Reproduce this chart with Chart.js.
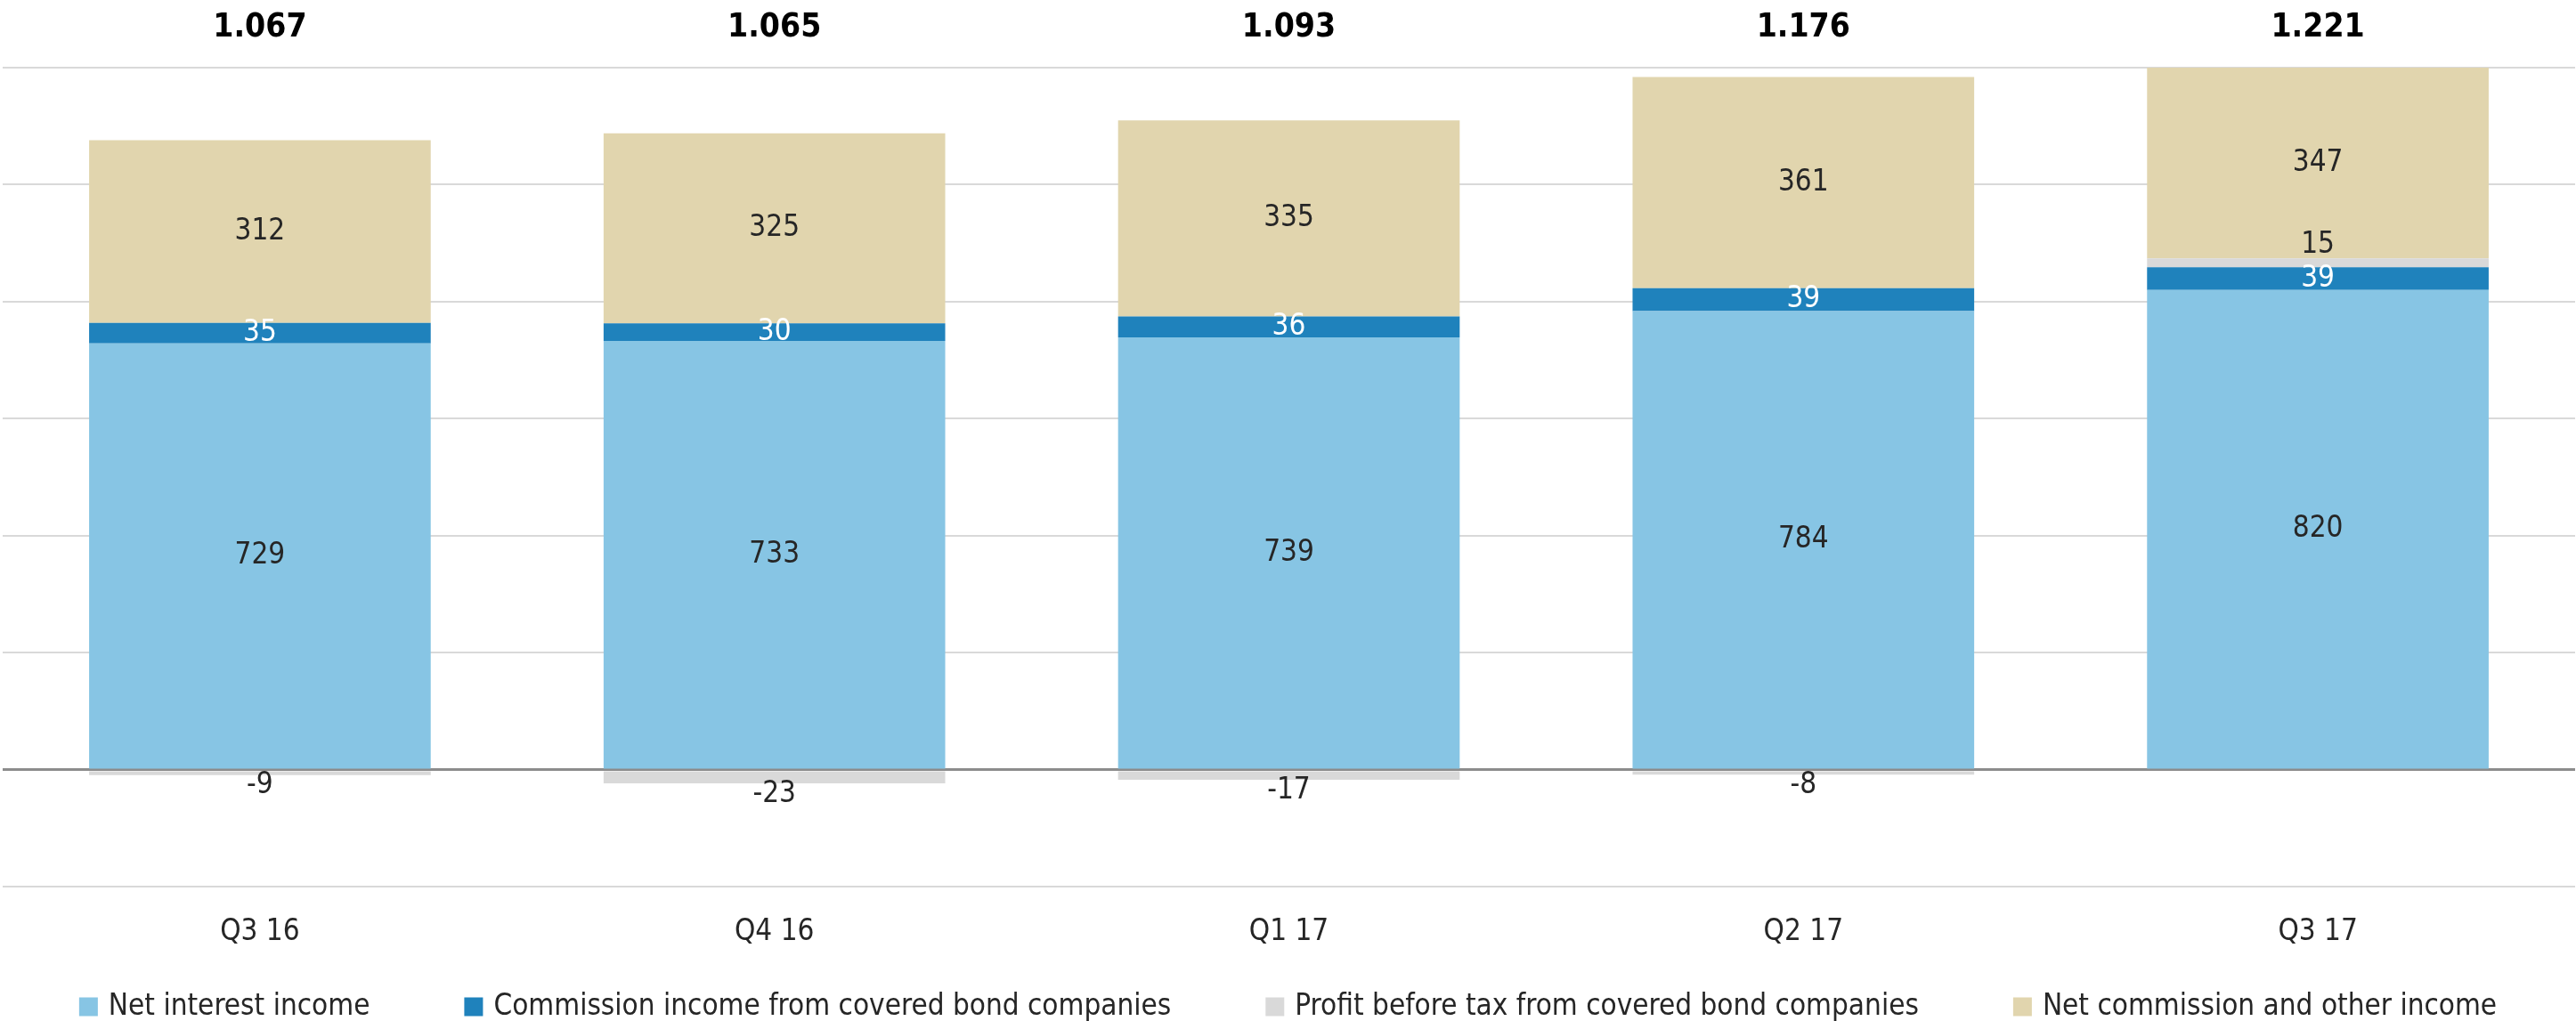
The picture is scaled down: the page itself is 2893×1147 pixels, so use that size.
<!DOCTYPE html>
<html>
<head>
<meta charset="utf-8">
<title>Income by quarter</title>
<script src="https://cdn.jsdelivr.net/npm/chart.js@4.4.0/dist/chart.umd.min.js"></script>
<style>
  html, body { margin: 0; padding: 0; background: #ffffff; }
  #wrap { width: 2893px; height: 1147px; }
</style>
</head>
<body>
<div id="wrap"><canvas id="incomeChart" width="2893" height="1147"></canvas></div>
<script>
// Quarterly income, stacked
const quarters = ['Q3 16', 'Q4 16', 'Q1 17', 'Q2 17', 'Q3 17'];
const netInterest = [729, 733, 739, 784, 820];
const coveredBondCommission = [35, 30, 36, 39, 39];
const coveredBondProfit = [-9, -23, -17, -8, 15];
const netCommissionOther = [312, 325, 335, 361, 347];
const yTicks = [-200, 0, 200, 400, 600, 800, 1000, 1200];

const FONT = "'Liberation Sans Narrow', 'DejaVu Sans Condensed', 'Noto Sans', sans-serif";
const TEXT = '#262626';

function formatTotal(t) {
    const thousands = Math.floor(t / 1000);
    const rest = String(t % 1000).padStart(3, '0');
    return thousands > 0 ? thousands + '.' + rest : String(t);
}

// Draws values inside the stacks and totals above the plot
const stackLabels = {
    id: 'stackLabels',
    afterDatasetsDraw(chart) {
        const ctx = chart.ctx;
        ctx.save();
        ctx.textAlign = 'center';
        ctx.textBaseline = 'middle';
        ctx.font = '33px ' + FONT;

        chart.data.datasets.forEach((ds, i) => {
            const meta = chart.getDatasetMeta(i);
            meta.data.forEach((bar, j) => {
                const v = ds.data[j];
                if (v === null || v === undefined) return;
                const top = Math.max(Math.min(bar.y, bar.base), chart.chartArea.top);
                const bottom = Math.max(bar.y, bar.base);
                let y = (top + bottom) / 2;
                if (i === 2) {
                    y = v < 0 ? bottom + 12 : top - 15;
                }
                ctx.fillStyle = i === 1 ? '#ffffff' : TEXT;
                ctx.fillText(String(v), bar.x, y);
            });
        });

        // totals
        ctx.font = 'bold 37px ' + FONT;
        ctx.fillStyle = '#000000';
        const meta0 = chart.getDatasetMeta(0);
        meta0.data.forEach((bar, j) => {
            const total = chart.data.datasets.reduce((s, ds) => s + ds.data[j], 0);
            ctx.fillText(formatTotal(total), bar.x, chart.chartArea.top - 45);
        });
        ctx.restore();
    }
};

// Single-row legend at the bottom, spaced like the original
const bottomLegend = {
    id: 'bottomLegend',
    afterDraw(chart) {
        const ctx = chart.ctx;
        const box = 21, boxGap = 12, itemGap = 106;
        const y = chart.height - 16;
        ctx.save();
        ctx.font = '33px ' + FONT;
        ctx.textBaseline = 'middle';
        ctx.textAlign = 'left';
        const items = chart.data.datasets.map(ds => ({
            text: ds.label,
            color: ds.backgroundColor,
            w: ctx.measureText(ds.label).width
        }));
        const total = items.reduce((s, it) => s + box + boxGap + it.w, 0) + itemGap * (items.length - 1);
        let x = (chart.width - total) / 2;
        items.forEach(it => {
            ctx.fillStyle = it.color;
            ctx.fillRect(x, y - box / 2, box, box);
            ctx.fillStyle = TEXT;
            ctx.fillText(it.text, x + box + boxGap, y);
            x += box + boxGap + it.w + itemGap;
        });
        ctx.restore();
    }
};

const barStyle = {
    categoryPercentage: 0.664,
    barPercentage: 1.0,
    borderWidth: 0,
    stack: 'income'
};

const config = {
    type: 'bar',
    data: {
        labels: quarters,
        datasets: [
            Object.assign({ label: 'Net interest income', data: netInterest, backgroundColor: '#87C5E4' }, barStyle),
            Object.assign({ label: 'Commission income from covered bond companies', data: coveredBondCommission, backgroundColor: '#1F82BC' }, barStyle),
            Object.assign({ label: 'Profit before tax from covered bond companies', data: coveredBondProfit, backgroundColor: '#D9D9D9' }, barStyle),
            Object.assign({ label: 'Net commission and other income', data: netCommissionOther, backgroundColor: '#E1D5AE' }, barStyle)
        ]
    },
    options: {
        responsive: false,
        animation: false,
        layout: {
            padding: { top: 76, left: 3, right: 1, bottom: 57 }
        },
        plugins: {
            legend: { display: false },
            tooltip: { enabled: false }
        },
        scales: {
            x: {
                stacked: true,
                grid: { display: false },
                border: { display: false },
                ticks: {
                    color: TEXT,
                    padding: 23,
                    font: { size: 33, family: FONT }
                }
            },
            y: {
                stacked: true,
                min: yTicks[0],
                max: yTicks[yTicks.length - 1],
                afterBuildTicks: (axis) => {
                    axis.ticks = yTicks.map(v => ({ value: v }));
                },
                border: { display: false },
                grid: {
                    color: (c) => (c.tick && c.tick.value === 0) ? '#8C8C8C' : '#D9D9D9',
                    lineWidth: (c) => (c.tick && c.tick.value === 0) ? 3 : 2,
                    drawTicks: false
                },
                ticks: { display: false }
            }
        }
    },
    plugins: [stackLabels, bottomLegend]
};

new Chart(document.getElementById('incomeChart'), config);
</script>
</body>
</html>
